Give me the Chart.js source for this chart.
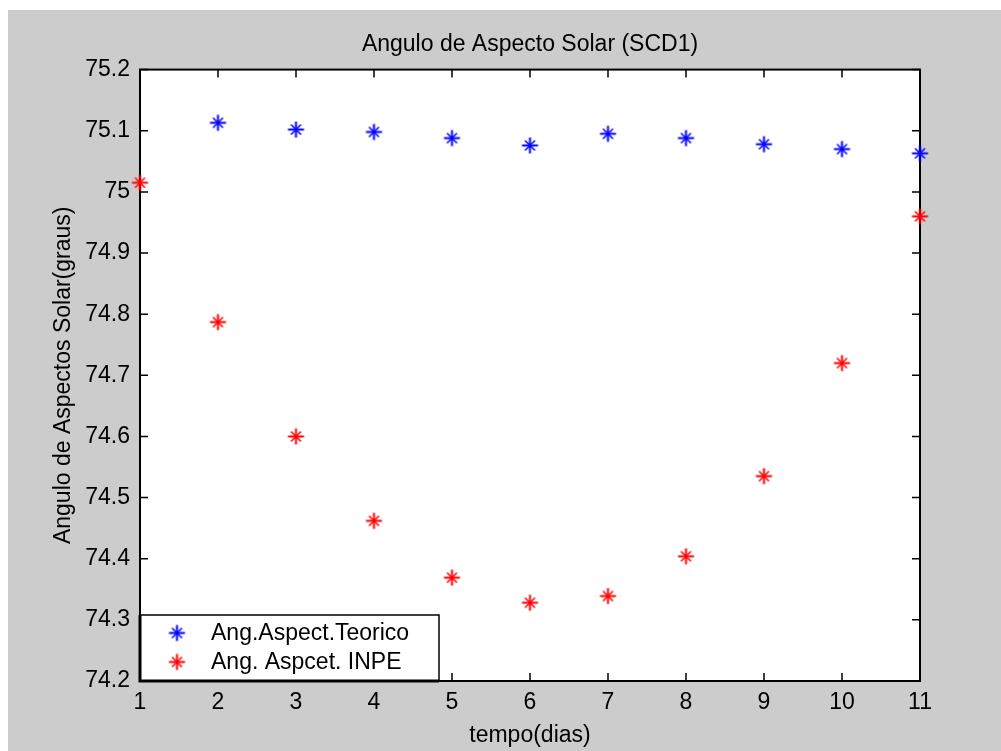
<!DOCTYPE html>
<html><head><meta charset="utf-8">
<script src="https://cdn.jsdelivr.net/npm/chart.js@4.4.1/dist/chart.umd.min.js"></script>
<style>html,body{margin:0;padding:0;background:#fff;}canvas{display:block;}</style>
</head><body>
<canvas id="c" width="1001" height="751"></canvas>
<script>
// ---- data ----
const days = [1, 2, 3, 4, 5, 6, 7, 8, 9, 10, 11];
const teorico = [null, 75.113, 75.102, 75.098, 75.088, 75.076, 75.095, 75.088, 75.078, 75.070, 75.063];
const inpe = [75.015, 74.787, 74.600, 74.462, 74.369, 74.328, 74.339, 74.404, 74.535, 74.720, 74.960];
const xTicks = [1, 2, 3, 4, 5, 6, 7, 8, 9, 10, 11];
const yTicks = [74.2, 74.3, 74.4, 74.5, 74.6, 74.7, 74.8, 74.9, 75.0, 75.1, 75.2];
const seriesNames = ['Ang.Aspect.Teorico', 'Ang. Aspcet. INPE'];
const titleText = 'Angulo de Aspecto Solar (SCD1)';
const xLabel = 'tempo(dias)';
const yLabel = 'Angulo de Aspectos Solar(graus)';

// ---- styling ----
const FONT = "'Liberation Sans', Arial, Helvetica, sans-serif";
const FS = 23;
const BLUE = '#0000ff', RED = '#ff0000';

function makeStar(color) {
  const c = document.createElement('canvas');
  c.width = 21; c.height = 21;
  const g = c.getContext('2d');
  const m = 10.5;
  g.strokeStyle = color;
  g.lineWidth = 2;
  g.beginPath();
  g.moveTo(m - 8, m); g.lineTo(m + 8, m);
  g.moveTo(m, m - 8); g.lineTo(m, m + 8);
  g.stroke();
  g.lineWidth = 1.5;
  g.beginPath();
  g.moveTo(m - 5, m - 5); g.lineTo(m + 5, m + 5);
  g.moveTo(m + 5, m - 5); g.lineTo(m - 5, m + 5);
  g.stroke();
  return c;
}
const starBlue = makeStar(BLUE);
const starRed = makeStar(RED);

function pts(vals) {
  return days.map((d, i) => ({ x: d, y: vals[i] })).filter(p => p.y !== null);
}

const bgPlugin = {
  id: 'bg',
  beforeDraw(chart) {
    const { ctx, width, height, chartArea: a } = chart;
    ctx.save();
    ctx.fillStyle = '#ffffff';
    ctx.fillRect(0, 0, width, height);
    ctx.fillStyle = '#cccccc';
    ctx.fillRect(8, 10, width - 8, height - 10);
    ctx.fillStyle = '#ffffff';
    ctx.fillRect(a.left, a.top, a.right - a.left, a.bottom - a.top);
    ctx.restore();
  }
};

const framePlugin = {
  id: 'frame',
  beforeDatasetsDraw(chart) {
    const { ctx, chartArea: a, scales } = chart;
    const tl = 8;
    ctx.save();
    ctx.strokeStyle = '#000';
    ctx.lineWidth = 1.5;
    ctx.beginPath();
    xTicks.forEach(v => {
      const px = scales.x.getPixelForValue(v);
      ctx.moveTo(px, a.bottom); ctx.lineTo(px, a.bottom - tl);
      ctx.moveTo(px, a.top); ctx.lineTo(px, a.top + tl);
    });
    yTicks.forEach(v => {
      const py = scales.y.getPixelForValue(v);
      ctx.moveTo(a.left, py); ctx.lineTo(a.left + tl, py);
      ctx.moveTo(a.right, py); ctx.lineTo(a.right - tl, py);
    });
    ctx.stroke();
    ctx.lineWidth = 2;
    ctx.strokeRect(a.left, a.top, a.right - a.left, a.bottom - a.top);
    ctx.restore();
  }
};

const legendPlugin = {
  id: 'mlegend',
  afterDatasetsDraw(chart) {
    const { ctx, chartArea: a } = chart;
    const x0 = a.left, x1 = a.left + 299, y1 = a.bottom, y0 = a.bottom - 66;
    ctx.save();
    ctx.fillStyle = '#ffffff';
    ctx.fillRect(x0, y0, x1 - x0, y1 - y0);
    ctx.strokeStyle = '#000';
    ctx.lineWidth = 1.5;
    ctx.strokeRect(x0, y0, x1 - x0, y1 - y0);
    ctx.lineWidth = 3;
    ctx.beginPath();
    ctx.moveTo(x0, y0); ctx.lineTo(x0, y1); ctx.lineTo(x1, y1);
    ctx.stroke();
    const imgs = [starBlue, starRed];
    const ys = [y0 + 18, y0 + 47];
    ctx.font = FS + 'px ' + FONT;
    ctx.fillStyle = '#000';
    ctx.textBaseline = 'middle';
    ctx.textAlign = 'left';
    chart.data.datasets.forEach((ds, i) => {
      ctx.drawImage(imgs[i], x0 + 37 - 10.5, ys[i] - 10.5);
      ctx.fillText(ds.label, x0 + 71, ys[i] + 1);
    });
    ctx.restore();
  }
};

const fontObj = { family: FONT, size: FS, weight: 'normal', lineHeight: 1.2 };

new Chart(document.getElementById('c').getContext('2d'), {
  type: 'scatter',
  data: {
    datasets: [
      { label: seriesNames[0], data: pts(teorico), pointStyle: starBlue, pointRadius: 8, clip: false, showLine: false, borderColor: BLUE, backgroundColor: BLUE },
      { label: seriesNames[1], data: pts(inpe), pointStyle: starRed, pointRadius: 8, clip: false, showLine: false, borderColor: RED, backgroundColor: RED }
    ]
  },
  options: {
    responsive: false,
    animation: false,
    devicePixelRatio: 1,
    layout: { padding: { left: 8, right: 81, top: 0, bottom: 0 } },
    plugins: {
      legend: { display: false },
      tooltip: { enabled: false },
      title: {
        display: true, text: titleText, fullSize: false, color: '#000',
        font: fontObj, padding: { top: 31, bottom: 11 }
      }
    },
    scales: {
      x: {
        type: 'linear', min: 1, max: 11,
        afterBuildTicks: s => { s.ticks = xTicks.map(v => ({ value: v })); },
        afterFit: s => { s.height = 70; },
        grid: { display: false, drawTicks: false },
        border: { display: false },
        ticks: { color: '#000', font: fontObj, padding: 8, maxRotation: 0, autoSkip: false,
          callback: v => String(v) },
        title: { display: true, text: xLabel, color: '#000', font: fontObj, padding: { top: 0, bottom: 2 } }
      },
      y: {
        type: 'linear', min: 74.2, max: 75.2,
        afterBuildTicks: s => { s.ticks = yTicks.map(v => ({ value: v })); },
        afterFit: s => { s.width = 132; },
        grid: { display: false, drawTicks: false },
        border: { display: false },
        ticks: { color: '#000', font: fontObj, padding: 10, autoSkip: false,
          callback: v => String(Number(v.toFixed(1))) },
        title: { display: true, text: yLabel, color: '#000', font: fontObj, padding: { top: 42, bottom: 0 } }
      }
    }
  },
  plugins: [bgPlugin, framePlugin, legendPlugin]
});
</script>
</body></html>
